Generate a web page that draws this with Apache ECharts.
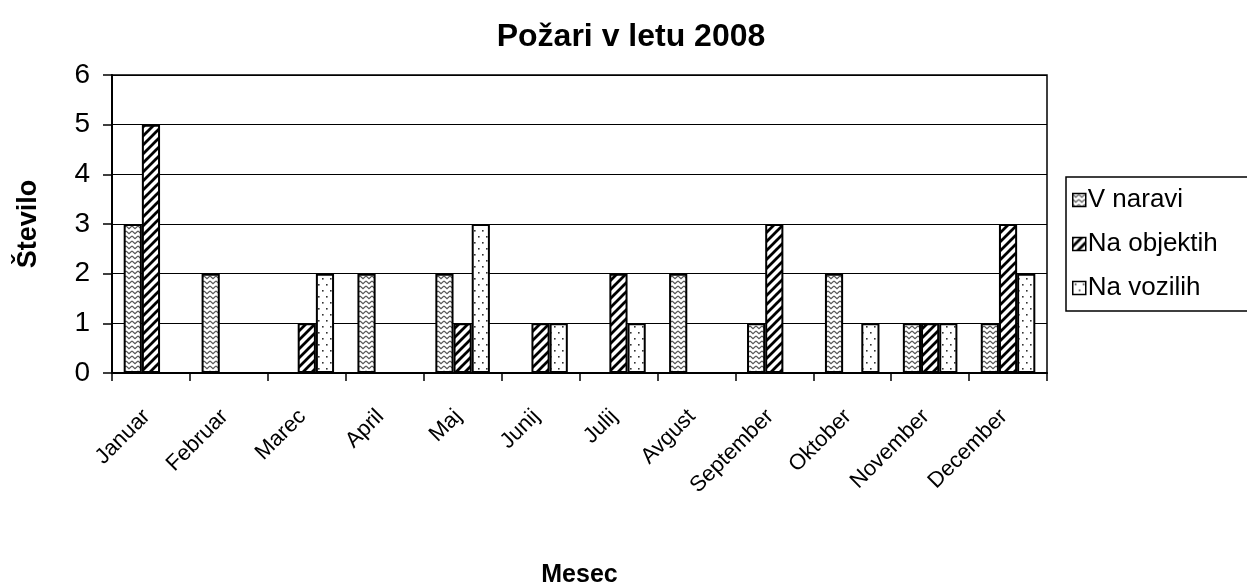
<!DOCTYPE html>
<html><head><meta charset="utf-8">
<script src="https://cdn.jsdelivr.net/npm/echarts@6/dist/echarts.min.js"></script>
<style>html,body{margin:0;padding:0;background:#fff}#c{width:1247px;height:587px}</style>
</head><body><div id="c"></div>
<script>
const categories = ['Januar','Februar','Marec','April','Maj','Junij','Julij','Avgust','September','Oktober','November','December'];
const vNaravi   = [3,2,0,2,2,0,0,2,1,2,1,1];
const naObjektih= [5,0,1,0,1,1,2,0,3,0,1,3];
const naVozilih = [0,0,2,0,3,1,1,0,0,1,1,2];
const seriesNames = ['V naravi','Na objektih','Na vozilih'];
const yTicks = [0,1,2,3,4,5,6];

function mk(w,h,draw){const c=document.createElement('canvas');c.width=w;c.height=h;const g=c.getContext('2d');g.fillStyle='#fff';g.fillRect(0,0,w,h);draw(g);return {image:c,repeat:'repeat'};}
const zig = mk(6,5,g=>{g.strokeStyle='#555';g.lineWidth=1.2;g.beginPath();g.moveTo(0,1);g.lineTo(3,3.8);g.lineTo(6,1);g.stroke();});
const diag = mk(9,9,g=>{g.strokeStyle='#000';g.lineWidth=2.8;g.beginPath();g.moveTo(-2,11);g.lineTo(11,-2);g.moveTo(-6,6);g.lineTo(6,-6);g.moveTo(3,15);g.lineTo(15,3);g.stroke();});
const dots = mk(8,12,g=>{g.fillStyle='#333';g.fillRect(2,2,1.6,1.6);g.fillRect(6,8,1.6,1.6);});
const pats=[zig,diag,dots];
const datas=[vNaravi,naObjektih,naVozilih];
const F='Liberation Sans';

const chart = echarts.init(document.getElementById('c'));
chart.setOption({
  animation:false,
  title:{text:'Požari v letu 2008',left:626,top:16,textAlign:'center',textStyle:{fontFamily:F,fontSize:32,fontWeight:'bold',color:'#000'}},
  legend:{orient:'vertical',left:1066,top:177,itemWidth:13,itemHeight:13,itemGap:18,padding:[10,60,10,6],
    borderColor:'#000',borderWidth:1.5,icon:'rect',itemStyle:{borderColor:'#000',borderWidth:1.5},
    textStyle:{fontFamily:F,fontSize:26,color:'#000',padding:[0,0,0,-3]},data:seriesNames},
  grid:{left:112,right:200,top:75,bottom:214,show:true,borderColor:'#000',borderWidth:1.5,outerBoundsMode:'none',containLabel:false},
  xAxis:{type:'category',data:categories,name:'Mesec',nameLocation:'middle',nameGap:190,
    nameTextStyle:{fontFamily:F,fontSize:25,fontWeight:'bold',color:'#000'},
    axisLine:{lineStyle:{color:'#000',width:2}},axisTick:{show:true,length:8,lineStyle:{color:'#000',width:1.5}},
    axisLabel:{rotate:45,fontFamily:F,fontSize:22,color:'#000',margin:36,padding:[0,6,0,0],interval:0}},
  yAxis:{type:'value',min:0,max:6,interval:1,name:'Število',nameLocation:'middle',nameGap:70,
    nameTextStyle:{fontFamily:F,fontSize:27,fontWeight:'bold',color:'#000'},
    axisLine:{show:true,lineStyle:{color:'#000',width:2}},axisTick:{show:true,inside:false,length:9,lineStyle:{color:'#000',width:1.5}},
    splitLine:{lineStyle:{color:'#000',width:1.2}},
    axisLabel:{fontFamily:F,fontSize:28,color:'#000',margin:22,formatter:v=>yTicks.includes(v)?String(v):''}},
  series: seriesNames.map((n,i)=>({name:n,type:'bar',data:datas[i],barGap:'0%',barCategoryGap:'30%',
    itemStyle:{color:pats[i],borderColor:'#000',borderWidth:2}}))
});
</script></body></html>
